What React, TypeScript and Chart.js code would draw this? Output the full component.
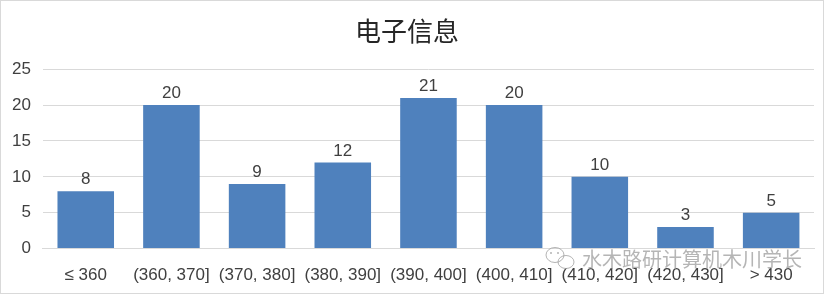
import React, { useEffect, useRef } from "react";
import { Chart, registerables } from "chart.js";

Chart.register(...registerables);

const title = "电子信息";
const categories = [
  "≤ 360",
  "(360, 370]",
  "(370, 380]",
  "(380, 390]",
  "(390, 400]",
  "(400, 410]",
  "(410, 420]",
  "(420, 430]",
  "> 430",
];
const counts = [8, 20, 9, 12, 21, 20, 10, 3, 5];
const yTicks = [0, 5, 10, 15, 20, 25];
const watermark = "水木路研计算机木川学长";

const FONT = "'Liberation Sans', Arial, sans-serif";

const valueLabels = {
  id: "valueLabels",
  afterDatasetsDraw(chart: any) {
    const ctx = chart.ctx;
    const meta = chart.getDatasetMeta(0);
    ctx.save();
    ctx.font = `17px ${FONT}`;
    ctx.fillStyle = "#404040";
    ctx.textAlign = "center";
    ctx.textBaseline = "bottom";
    meta.data.forEach((bar: any, i: number) => {
      ctx.fillText(String(counts[i]), bar.x, bar.y - 3);
    });
    ctx.restore();
  },
};

const frameAndMark = {
  id: "frameAndMark",
  afterDraw(chart: any) {
    const ctx = chart.ctx;
    ctx.save();
    // frame
    ctx.strokeStyle = "#d9d9d9";
    ctx.lineWidth = 1;
    ctx.strokeRect(0.5, 0.5, 823, 293);
    // watermark icon (two chat bubbles)
    ctx.strokeStyle = "rgba(160,160,160,0.8)";
    ctx.lineWidth = 1;
    ctx.beginPath();
    ctx.ellipse(555, 255, 9, 7.5, 0, 0, Math.PI * 2);
    ctx.stroke();
    ctx.beginPath();
    ctx.ellipse(566, 262, 8, 6.5, 0, 0, Math.PI * 2);
    ctx.stroke();
    ctx.fillStyle = "rgba(160,160,160,0.8)";
    [551, 558].forEach((x) => {
      ctx.beginPath();
      ctx.arc(x, 253, 1, 0, Math.PI * 2);
      ctx.fill();
    });
    // watermark text
    ctx.font = `20px 'Noto Sans CJK SC', sans-serif`;
    ctx.fillStyle = "rgba(150,150,150,0.7)";
    ctx.textAlign = "left";
    ctx.textBaseline = "middle";
    ctx.fillText(watermark, 582, 259);
    ctx.restore();
  },
};

export default function App() {
  const ref = useRef<HTMLCanvasElement>(null);

  useEffect(() => {
    document.body.style.margin = "0";
    const chart = new Chart(ref.current!, {
      type: "bar",
      data: {
        labels: categories,
        datasets: [
          {
            data: counts,
            backgroundColor: "#4f81bd",
            borderWidth: 0,
            categoryPercentage: 1,
            barPercentage: 0.66,
          },
        ],
      },
      options: {
        responsive: false,
        animation: false,
        devicePixelRatio: 1,
        layout: { padding: { left: 0, right: 14, top: 0, bottom: -7 } },
        plugins: {
          legend: { display: false },
          tooltip: { enabled: false },
          title: {
            display: true,
            text: title,
            color: "#262626",
            font: { family: "'Noto Sans CJK SC', sans-serif", size: 26, weight: "normal" },
            padding: { top: 16, bottom: 22 },
          },
        },
        scales: {
          x: {
            grid: { display: false, drawTicks: false },
            border: { display: true, color: "#d9d9d9", width: 1 },
            ticks: {
              color: "#404040",
              font: { family: FONT, size: 17 },
              padding: 17,
              maxRotation: 0,
              autoSkip: false,
            },
          },
          y: {
            min: 0,
            max: 25,
            afterBuildTicks(axis: any) {
              axis.ticks = yTicks.map((v) => ({ value: v }));
            },
            grid: { color: "#d9d9d9", drawTicks: false },
            border: { display: false },
            ticks: {
              color: "#404040",
              font: { family: FONT, size: 17 },
              padding: 12,
            },
          },
        },
      },
      plugins: [valueLabels, frameAndMark],
    });
    return () => chart.destroy();
  }, []);

  return (
    <div style={{ width: 828, height: 296, background: "#fff" }}>
      <canvas ref={ref} width={828} height={296} style={{ display: "block" }} />
    </div>
  );
}
